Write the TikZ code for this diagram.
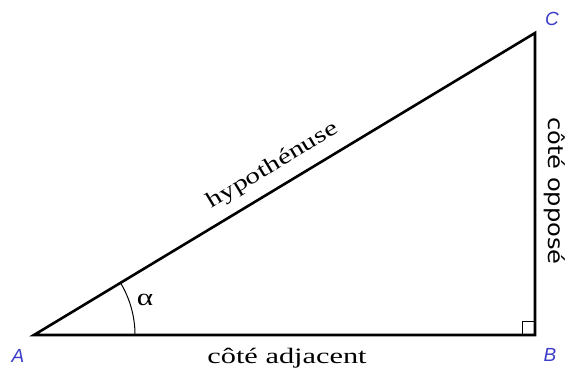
\documentclass[tikz,border=0pt]{standalone}
\usepackage{fontspec}
\usepackage{graphicx}
\setmainfont{Liberation Serif}
\newfontfamily\lblfont{Liberation Sans}
\newfontfamily\oppfont{DejaVu Sans}
\definecolor{lblblue}{RGB}{60,60,200}
\begin{document}
\begin{tikzpicture}[x=1pt,y=1pt,
  side/.style={line width=2.6pt, line join=miter},
  thinmark/.style={line width=1pt},
  vertexlbl/.style={text=lblblue, font=\lblfont\itshape\fontsize{19}{19}\selectfont, inner sep=0pt},
  seriflbl/.style={font=\fontsize{22}{22}\selectfont, inner sep=0pt},
  sanslbl/.style={font=\oppfont\fontsize{21}{21}\selectfont, inner sep=0pt}]
\useasboundingbox (0,0) rectangle (571,370);
\coordinate (A) at (34,35);
\coordinate (B) at (535,35);
\coordinate (C) at (535,337);
\draw[side] (A) -- (B) -- (C) -- cycle;
\draw[thinmark] (B) ++(-13,0) -- ++(0,13) -- ++(13,0);
\draw[thinmark] (A) ++(101pt,0) arc[start angle=0, end angle=31.08, radius=101pt];
\node[vertexlbl] (lA) at (18,14) {A};
\node[vertexlbl] (lB) at (550,15) {B};
\node[vertexlbl] (lC) at (552,351) {C};
\node[seriflbl, font=\fontsize{24}{24}\selectfont] (alpha) at (145,70) {\scalebox{1.3}[1]{α}};
\node[seriflbl, anchor=base] (adj) at (287,7) {\scalebox{1.38}[1]{côté adjacent}};
\node[sanslbl, anchor=base, rotate=-90] (opp) at (548,179) {\scalebox{1.15}[1]{côté opposé}};
\node[seriflbl, rotate=31.08] (hyp) at (273,204) {\scalebox{1.34}[1]{hypothénuse}};
\end{tikzpicture}
\end{document}
